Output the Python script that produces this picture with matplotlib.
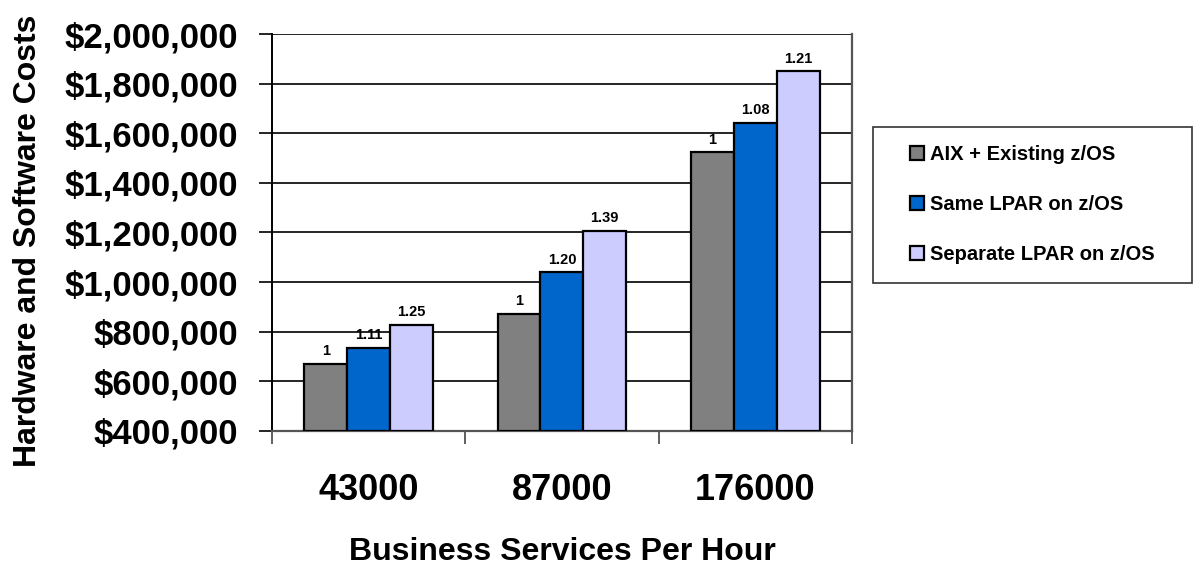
import numpy as np
import matplotlib.pyplot as plt
from matplotlib.patches import Rectangle
from matplotlib.ticker import FuncFormatter, FixedLocator

plt.rcParams['font.family'] = ['Liberation Sans', 'DejaVu Sans']
plt.rcParams['font.weight'] = 'bold'

categories = ["43000", "87000", "176000"]
series_names = ["AIX + Existing z/OS", "Same LPAR on z/OS", "Separate LPAR on z/OS"]
aix_costs = [671000, 873000, 1523000]
same_lpar_costs = [735000, 1040000, 1642000]
sep_lpar_costs = [828000, 1206000, 1850000]
# cost ratio vs. the AIX option, printed above each bar
aix_labels = ["1", "1", "1"]
same_labels = ["1.11", "1.20", "1.08"]
sep_labels = ["1.25", "1.39", "1.21"]

series = [
    (aix_costs, aix_labels),
    (same_lpar_costs, same_labels),
    (sep_lpar_costs, sep_labels),
]
colors = ["#808080", "#0066CC", "#CCCCFF"]

fig = plt.figure(figsize=(11.93, 5.65), dpi=100)
ax = fig.add_axes([0.228, 0.2372, 0.486, 0.7026])

x = np.arange(len(categories))
width = 0.222
base = 400000

for i, (vals, labels) in enumerate(series):
    pos = x + (i - 1) * width
    ax.bar(pos, [v - base for v in vals], width, bottom=base,
           color=colors[i], edgecolor="black", linewidth=1.6,
           label=series_names[i], zorder=3)
    for p, v, lab in zip(pos, vals, labels):
        ax.annotate(lab, (p, v), xytext=(0, 4), textcoords="offset points",
                    ha="center", va="bottom", fontsize=10.5, fontweight="bold")

ax.set_ylim(400000, 2000000)
ax.set_xlim(-0.5, 2.5)
ax.set_yticks(np.arange(400000, 2000001, 200000))
ax.yaxis.set_major_formatter(FuncFormatter(lambda v, _: f"${v:,.0f}"))
ax.grid(axis="y", color="black", linewidth=1.2, zorder=0)

# category boundaries get the tick marks, labels sit on minor ticks at group centres
ax.xaxis.set_major_locator(FixedLocator([-0.5, 0.5, 1.5, 2.5]))
ax.xaxis.set_minor_locator(FixedLocator(x))
ax.set_xticklabels([], minor=False)
ax.set_xticklabels(categories, minor=True)
ax.tick_params(axis="x", which="major", direction="out", length=9.5, width=1.2, color="#444444")
ax.tick_params(axis="x", which="minor", length=0, pad=30, labelsize=26)
ax.tick_params(axis="y", direction="out", length=9.5, width=1.2, pad=15, labelsize=25)
for lbl in ax.get_xticklabels(minor=True) + ax.get_yticklabels():
    lbl.set_fontweight("bold")

ax.spines["top"].set_visible(False)
ax.spines["left"].set_color("black")
ax.spines["left"].set_linewidth(1.4)
for s in ("bottom", "right"):
    ax.spines[s].set_color("#555555")
    ax.spines[s].set_linewidth(1.6)

ax.set_ylabel("Hardware and Software Costs", fontsize=23, fontweight="bold")
ax.yaxis.set_label_coords(-0.395, 0.48)
ax.set_xlabel("Business Services Per Hour", fontsize=23, fontweight="bold", labelpad=21)

# legend box drawn separately so the inner padding can be wider than tall
fig.patches.append(Rectangle((873 / 1193, 1 - 283 / 565), 319 / 1193, 156 / 565,
                             transform=fig.transFigure, fill=False,
                             edgecolor="#333333", linewidth=1.2))
leg = ax.legend(loc="center left", bbox_to_anchor=(1.10, 0.57), fontsize=14.5,
                frameon=False, handlelength=0.7, handleheight=0.7, handletextpad=0.3,
                labelspacing=1.55, borderpad=0, borderaxespad=0)
for t in leg.get_texts():
    t.set_fontweight("bold")

fig.savefig("out.png", dpi=100)
